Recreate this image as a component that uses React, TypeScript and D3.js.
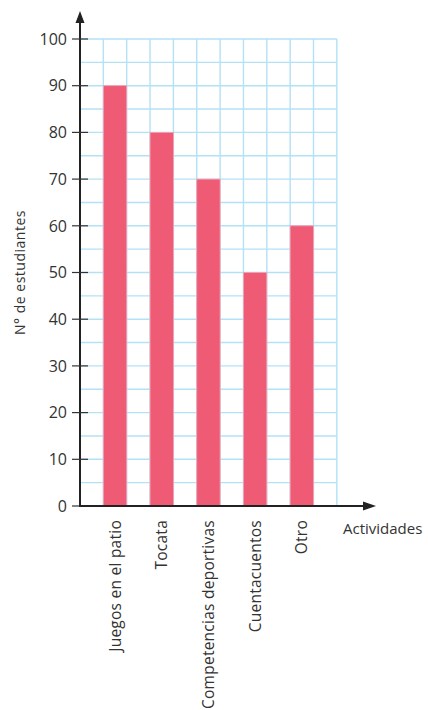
import React from "react";
import * as d3 from "d3";

const categories = ["Juegos en el patio", "Tocata", "Competencias deportivas", "Cuentacuentos", "Otro"];
const values = [90, 80, 70, 50, 60];
const yTicks = [0, 10, 20, 30, 40, 50, 60, 70, 80, 90, 100];
const yTitle = "N° de estudiantes";
const xTitle = "Actividades";

export default function App() {
  const W = 428, H = 710;
  const x0 = 80, y0 = 506, yTop = 39;
  const y = d3.scaleLinear().domain([0, 100]).range([y0, yTop]);
  const cell = (y(0) - y(5));
  const x = d3.scaleBand<string>().domain(categories).range([x0, x0 + cell * 11]).paddingInner(0.5).paddingOuter(0.5);
  const gridRight = x0 + cell * 11;
  const hLines = d3.range(0, 101, 5);
  const vLines = d3.range(0, 12).map(i => x0 + i * cell);
  const font = "'Open Sans', sans-serif";
  const textColor = "#333";
  return (
    <svg width={W} height={H} style={{ position: "absolute", left: 0, top: 0 }} fontFamily={font}>
      <rect width={W} height={H} fill="#fff" />
      {hLines.map(v => (
        <line key={"h" + v} x1={x0} x2={gridRight} y1={y(v)} y2={y(v)} stroke="#b3e1f6" strokeWidth={1.4} />
      ))}
      {vLines.map((vx, i) => (
        <line key={"v" + i} x1={vx} x2={vx} y1={y(0)} y2={y(100)} stroke="#b3e1f6" strokeWidth={1.4} />
      ))}
      {categories.map((c, i) => (
        <rect key={c} x={x(c)!} y={y(values[i])} width={x.bandwidth()} height={y(0) - y(values[i])}
          fill="#ef5a74" stroke="#f3a3b2" strokeWidth={0.8} />
      ))}
      {/* y axis */}
      <line x1={x0} x2={x0} y1={y0 + 1} y2={20} stroke="#222" strokeWidth={2} />
      <path d={`M${x0},11 L${x0 - 4.5},23 L${x0 + 4.5},23 Z`} fill="#222" />
      {yTicks.map(t => (
        <g key={"t" + t}>
          <line x1={x0 - 8} x2={x0 + 8} y1={y(t)} y2={y(t)} stroke="#333" strokeWidth={1.2} />
          <text x={67} y={y(t)} dy="0.36em" textAnchor="end" fontSize={16} fill={textColor}>{t}</text>
        </g>
      ))}
      {/* x axis */}
      <line x1={x0 - 1} x2={364} y1={y0} y2={y0} stroke="#222" strokeWidth={2} />
      <path d={`M376,${y0} L363,${y0 - 4.5} L363,${y0 + 4.5} Z`} fill="#222" />
      <text x={343} y={534} fontSize={15} fill={textColor}>{xTitle}</text>
      {categories.map(c => (
        <text key={"l" + c} transform={`translate(${x(c)! + x.bandwidth() / 2},520) rotate(-90)`}
          dy="0.36em" textAnchor="end" fontSize={15.5} letterSpacing={0.25} fill={textColor}>{c}</text>
      ))}
      <text transform={`translate(20,${(y(0) + y(100)) / 2}) rotate(-90)`} dy="0.36em" textAnchor="middle"
        fontSize={14} letterSpacing={0.5} fill={textColor}>{yTitle}</text>
    </svg>
  );
}
